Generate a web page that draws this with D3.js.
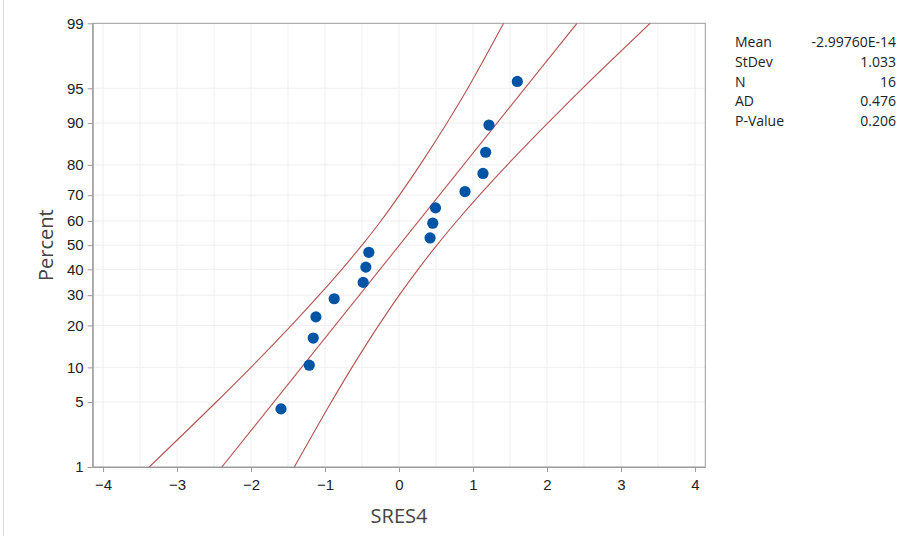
<!DOCTYPE html>
<html>
<head>
<meta charset="utf-8">
<script src="https://cdn.jsdelivr.net/npm/d3@7"></script>
<style>
  body { margin: 0; background: #fff; }
  svg { display: block; font-family: "Open Sans", "Noto Sans", sans-serif; }
  .axis path, .axis line { stroke: #9a9a9a; }
  .axis text { fill: #222; font-size: 15px; }
  .grid line { stroke: #efefef; }
</style>
</head>
<body>
<svg id="chart"></svg>
<script>
// residuals (SRES4) and plotting positions in percent
const sres = [-1.595, -1.213, -1.159, -1.123, -0.876, -0.484, -0.448, -0.408,
              0.420, 0.456, 0.493, 0.892, 1.135, 1.171, 1.216, 1.599];
const pct = [4.3, 10.4, 16.5, 22.6, 28.7, 34.8, 40.9, 47.0,
             53.0, 59.1, 65.2, 71.3, 77.4, 83.5, 89.6, 95.7];

// fitted line end points
const fitPct = [1, 99];
const fitX = [-2.395, 2.405];

// confidence band read at percent levels
const bandPct = [1, 5, 10, 20, 30, 40, 50, 60, 70, 80, 90, 95, 99];
const bandLower = [-3.375, -2.47, -2.0, -1.455, -1.08, -0.772, -0.50, -0.245, 0.006, 0.285, 0.648, 0.93, 1.414];
const bandUpper = [-1.415, -0.915, -0.635, -0.275, 0.003, 0.258, 0.512, 0.782, 1.088, 1.464, 2.013, 2.48, 3.394];

const xTicks = [-4, -3, -2, -1, 0, 1, 2, 3, 4];
const yTicks = [1, 5, 10, 20, 30, 40, 50, 60, 70, 80, 90, 95, 99];

const statLabels = ['Mean', 'StDev', 'N', 'AD', 'P-Value'];
const statValues = ['-2.99760E-14', '1.033', '16', '0.476', '0.206'];

const W = 898, H = 536;
const margin = {top: 23.3, right: 192.7, bottom: 69, left: 92.7};

// inverse standard normal CDF (Acklam), used for the probability axis
function probit(p) {
  const a = [-39.69683028665376, 220.9460984245205, -275.9285104469687, 138.3577518672690, -30.66479806614716, 2.506628277459239];
  const b = [-54.47609879822406, 161.5858368580409, -155.6989798598866, 66.80131188771972, -13.28068155288572];
  const c = [-0.007784894002430293, -0.3223964580411365, -2.400758277161838, -2.549732539343734, 4.374664141464968, 2.938163982698783];
  const d = [0.007784695709041462, 0.3224671290700398, 2.445134137142996, 3.754408661907416];
  const pl = 0.02425;
  let q, r;
  if (p < pl) {
    q = Math.sqrt(-2 * Math.log(p));
    return (((((c[0]*q+c[1])*q+c[2])*q+c[3])*q+c[4])*q+c[5]) / ((((d[0]*q+d[1])*q+d[2])*q+d[3])*q+1);
  } else if (p <= 1 - pl) {
    q = p - 0.5; r = q * q;
    return (((((a[0]*r+a[1])*r+a[2])*r+a[3])*r+a[4])*r+a[5])*q / (((((b[0]*r+b[1])*r+b[2])*r+b[3])*r+b[4])*r+1);
  } else {
    q = Math.sqrt(-2 * Math.log(1 - p));
    return -(((((c[0]*q+c[1])*q+c[2])*q+c[3])*q+c[4])*q+c[5]) / ((((d[0]*q+d[1])*q+d[2])*q+d[3])*q+1);
  }
}
const z = p => probit(p / 100);

const svg = d3.select('#chart').attr('width', W).attr('height', H);

// faint frame line on the left edge
svg.append('line')
  .attr('x1', 3.5).attr('x2', 3.5).attr('y1', 0).attr('y2', H)
  .attr('stroke', '#dcdcdc');

const xScale = d3.scaleLinear().domain([-4.14, 4.14]).range([margin.left, W - margin.right]);
const zMax = probit(0.99);
const yScale = d3.scaleLinear().domain([-zMax, zMax]).range([H - margin.bottom, margin.top]);

// grid
const grid = svg.append('g').attr('class', 'grid');
grid.selectAll('.vg')
  .data(d3.range(-4, 4.01, 0.5))
  .join('line')
  .attr('x1', d => xScale(d)).attr('x2', d => xScale(d))
  .attr('y1', margin.top).attr('y2', H - margin.bottom);
grid.selectAll('.hg')
  .data(yTicks.slice(1, -1))
  .join('line')
  .attr('x1', margin.left).attr('x2', W - margin.right)
  .attr('y1', d => yScale(z(d))).attr('y2', d => yScale(z(d)));

// axes
const xAxis = d3.axisBottom(xScale).tickValues(xTicks).tickSize(5).tickSizeOuter(0).tickPadding(7);
const yAxis = d3.axisLeft(yScale).tickValues(yTicks.map(z))
  .tickFormat((d, i) => yTicks[i]).tickSize(5).tickSizeOuter(0).tickPadding(4);

svg.append('g').attr('class', 'axis')
  .attr('transform', `translate(0,${H - margin.bottom})`).call(xAxis);
svg.append('g').attr('class', 'axis')
  .attr('transform', `translate(${margin.left},0)`).call(yAxis);

// plot frame
svg.append('rect')
  .attr('x', margin.left).attr('y', margin.top)
  .attr('width', W - margin.right - margin.left)
  .attr('height', H - margin.bottom - margin.top)
  .attr('fill', 'none').attr('stroke', '#9a9a9a');

// clip for lines
svg.append('clipPath').attr('id', 'plotClip')
  .append('rect')
  .attr('x', margin.left).attr('y', margin.top)
  .attr('width', W - margin.right - margin.left)
  .attr('height', H - margin.bottom - margin.top);

const lines = svg.append('g').attr('clip-path', 'url(#plotClip)');
const lineGen = d3.line()
  .x(d => xScale(d[0]))
  .y(d => yScale(z(d[1])))
  .curve(d3.curveCatmullRom);

const lineColor = '#b3524f';
lines.append('path')
  .datum(bandLower.map((v, i) => [v, bandPct[i]]))
  .attr('d', lineGen).attr('fill', 'none').attr('stroke', lineColor).attr('stroke-width', 1.1);
lines.append('path')
  .datum(bandUpper.map((v, i) => [v, bandPct[i]]))
  .attr('d', lineGen).attr('fill', 'none').attr('stroke', lineColor).attr('stroke-width', 1.1);
lines.append('path')
  .datum(fitX.map((v, i) => [v, fitPct[i]]))
  .attr('d', d3.line().x(d => xScale(d[0])).y(d => yScale(z(d[1]))))
  .attr('fill', 'none').attr('stroke', lineColor).attr('stroke-width', 1.1);

// points
svg.append('g').selectAll('circle')
  .data(sres.map((v, i) => ({x: v, p: pct[i]})))
  .join('circle')
  .attr('cx', d => xScale(d.x))
  .attr('cy', d => yScale(z(d.p)))
  .attr('r', 5.6)
  .attr('fill', '#0054a6');

// axis titles
svg.append('text')
  .attr('x', xScale(0)).attr('y', 523)
  .attr('text-anchor', 'middle')
  .attr('font-size', 20).attr('fill', '#444')
  .text('SRES4');
svg.append('text')
  .attr('transform', `translate(53,${yScale(0)}) rotate(-90)`)
  .attr('text-anchor', 'middle')
  .attr('font-size', 20).attr('fill', '#444')
  .text('Percent');

// stats table
const stats = svg.append('g').attr('font-size', 14).attr('fill', '#222');
stats.selectAll('.lab')
  .data(statLabels)
  .join('text')
  .attr('x', 735).attr('y', (d, i) => 47.3 + i * 19.7)
  .text(d => d);
stats.selectAll('.val')
  .data(statValues)
  .join('text')
  .attr('x', 896).attr('y', (d, i) => 47.3 + i * 19.7)
  .attr('text-anchor', 'end')
  .text(d => d);
</script>
</body>
</html>
